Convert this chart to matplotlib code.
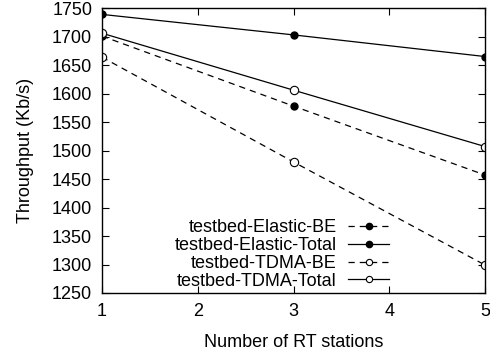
import matplotlib
matplotlib.use("Agg")
import matplotlib.pyplot as plt

plt.rcParams["font.family"] = ["Liberation Sans", "DejaVu Sans"]

stations = [1, 3, 5]
elastic_be = [1701, 1578, 1457]
elastic_total = [1739, 1703, 1665]
tdma_be = [1664, 1480, 1299]
tdma_total = [1706, 1606, 1507]

fig = plt.figure(figsize=(4.9, 3.53), dpi=100)
ax = fig.add_axes([0.208, 0.17, 0.782, 0.807])

ax.plot(stations, elastic_be, "k--", lw=0.9, dashes=(5, 4), marker="o", ms=5,
        mfc="black", label="testbed-Elastic-BE")
ax.plot(stations, elastic_total, "k-", lw=0.9, marker="o", ms=5,
        mfc="black", label="testbed-Elastic-Total")
ax.plot(stations, tdma_be, "k--", lw=0.9, dashes=(5, 4), marker="o", ms=6,
        mfc="white", mew=0.8, label="testbed-TDMA-BE")
ax.plot(stations, tdma_total, "k-", lw=0.9, marker="o", ms=6,
        mfc="white", mew=0.8, label="testbed-TDMA-Total")

ax.set_xlim(1, 5)
ax.set_ylim(1250, 1750)
ax.set_xticks([1, 2, 3, 4, 5])
ax.set_yticks(range(1250, 1751, 50))
ax.tick_params(direction="in", top=True, right=True, labelsize=13, length=5, pad=7)
ax.set_xlabel("Number of RT stations", fontsize=13, labelpad=10)
ax.set_ylabel("Throughput (Kb/s)", fontsize=13, labelpad=13)
for s in ax.spines.values():
    s.set_linewidth(1.0)

# gnuplot-style key: text right-aligned, sample on the right
leg = ax.legend(loc="lower right", bbox_to_anchor=(0.783, -0.033), frameon=False,
                markerfirst=False, fontsize=13, handlelength=2.3,
                labelspacing=0.05, borderaxespad=0.3, handletextpad=0.6)
for h in leg.legend_handles:
    h.set_markersize(4.5)
for t in leg.get_texts():
    t.set_ha("right")
leg._legend_box.align = "right"

fig.savefig("out.png", dpi=100)
